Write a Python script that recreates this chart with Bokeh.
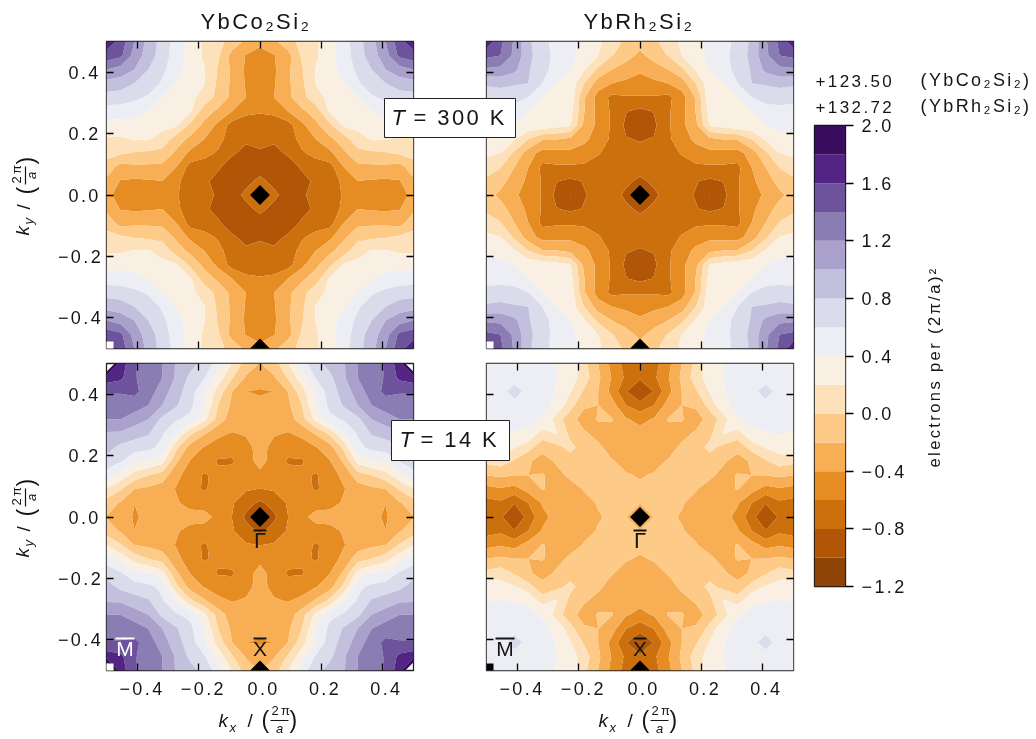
from math import pi
import numpy as np
from bokeh.core.properties import value
from bokeh.embed import file_html
from bokeh.layouts import column
from bokeh.models import FixedTicker, LinearAxis, Range1d
from bokeh.plotting import figure
from bokeh.resources import INLINE

FONT = "Liberation Sans"
levels = [-1.2, -1.0, -0.8, -0.6, -0.4, -0.2, 0.0, 0.2, 0.4, 0.6, 0.8, 1.0, 1.2, 1.4, 1.6, 1.8, 2.0]
palette = ["#8f4407", "#b05606", "#cc700e", "#e58c23", "#f8ae54", "#fdca87", "#fde1ba", "#f9f0e3",
           "#edeef3", "#dadcec", "#c3c0dd", "#a9a0cb", "#897db3", "#6d529c", "#522584", "#390c5e"]
ticks = [-0.4, -0.2, 0.0, 0.2, 0.4]
tick_labels = ["\u22120.4", "\u22120.2", "0.0", "0.2", "0.4"]
cbar_ticks = [-1.2, -0.8, -0.4, 0.0, 0.4, 0.8, 1.2, 1.6, 2.0]
cbar_labels = ["\u22121.2", "\u22120.8", "\u22120.4", "0.0", "0.4", "0.8", "1.2", "1.6", "2.0"]

# Charge map, one octant of the square Brillouin zone (row = |kx| step, column = |ky| step)
co_300 = [
    [-.65],
    [-.75, -.86],
    [-.89, -.92, -.91],
    [-.83, -.87, -.77, -.62],
    [-.73, -.76, -.68, -.55, -.40],
    [-.65, -.67, -.68, -.45, -.25, -.05],
    [-.59, -.57, -.40, -.24, -.10, .23, .30],
    [-.55, -.40, -.25, -.07, .13, .25, .33, .40],
    [-.52, -.42, -.24, -.04, .21, .29, .39, .57, .72],
    [-.48, -.43, -.24, -.02, .21, .34, .46, .65, .80, 1.0],
    [-.43, -.41, -.28, .03, .17, .33, .50, .70, .90, 1.12, 1.45],
    [-.38, -.24, -.07, .06, .17, .32, .51, .72, .93, 1.2, 1.52, 1.75],
]
rh_300 = [
    [-.92],
    [-.84, -.76],
    [-.72, -.72, -.70],
    [-.76, -.74, -.70, -.58],
    [-.81, -.79, -.62, -.54, -.33],
    [-1.005, -.84, -.63, -.45, -.25, .22],
    [-.85, -.79, -.63, -.47, -.19, .28, .34],
    [-.62, -.62, -.65, -.48, -.18, .33, .37, .40],
    [-.45, -.44, -.40, -.30, 0.0, .34, .40, .60, .80],
    [-.38, -.30, -.20, -.04, .22, .40, .52, .67, .82, 1.05],
    [-.25, -.12, .01, .20, .33, .45, .54, .68, .86, 1.15, 1.40],
    [-.12, -.04, .10, .24, .35, .46, .54, .65, .84, 1.17, 1.45, 1.75],
]
co_14 = [
    [-.92],
    [-.84, -.72],
    [-.604, -.58, -.52],
    [-.43, -.47, -.52, -.55],
    [-.36, -.45, -.625, -.625, -.47],
    [-.33, -.46, -.52, -.47, -.41, -.28],
    [-.32, -.38, -.41, -.36, -.17, .05, .40],
    [-.33, -.34, -.31, -.08, .26, .55, .62, .75],
    [-.36, -.34, -.24, 0.0, .40, .65, .82, 1.0, 1.2],
    [-.42, -.398, -.20, .12, .42, .70, .88, 1.10, 1.30, 1.45],
    [-.30, -.22, .02, .32, .62, .75, .97, 1.20, 1.30, 1.42, 1.65],
    [-.21, -.09, .19, .50, .73, .88, .98, 1.20, 1.30, 1.42, 1.72, 2.4],
]
rh_14 = [
    [-.32],
    [-.195, -.10],
    [-.18, -.17, -.15],
    [-.21, -.19, -.16, -.13],
    [-.28, -.24, -.19, -.15, -.10],
    [-.30, -.28, -.26, -.17, -.08, .05],
    [-.33, -.29, -.25, -.25, -.18, -.06, .22],
    [-.46, -.38, -.19, -.19, -.27, -.14, .12, .38],
    [-.73, -.60, -.32, -.20, -.175, .08, .36, .45, .52],
    [-.98, -.79, -.47, -.20, -.03, .22, .39, .47, .55, .66],
    [-.77, -.64, -.42, -.16, .10, .30, .41, .45, .50, .54, .50],
    [-.70, -.68, -.46, -.20, .05, .35, .39, .43, .48, .52, .50, .47],
]
k_steps = list(range(-11, 12))
mark_diamond_x, mark_diamond_y = [0.0, 0.0], [0.0, -0.5]
mark_square_x, mark_square_y = [-0.5], [-0.5]


def unfold(tri):
    n = len(k_steps)
    z = np.zeros((n, n))
    for i, a in enumerate(k_steps):
        for j, b in enumerate(k_steps):
            hi, lo = max(abs(a), abs(b)), min(abs(a), abs(b))
            z[i, j] = tri[hi][lo]
    return z


SPACING = "2.4px"
INK = "#151515"
L, R, T, B = 70, 70, 10, 40   # all figures of a column share these borders


def place(fx, fy):
    return {"position": "absolute", "left": f"{fx - L}px", "top": f"{fy - T}px", "letter-spacing": SPACING}


def panel(tri, fx, fy, left_labels, bottom_labels, corner):
    p = figure(frame_width=307, frame_height=307, output_backend="svg", toolbar_location=None,
               x_range=Range1d(-0.5, 0.5), y_range=Range1d(-0.5, 0.5),
               min_border_left=L, min_border_right=R, min_border_top=T, min_border_bottom=B,
               x_axis_location=None, y_axis_location=None,
               background_fill_color="white", border_fill_color=None,
               styles=place(fx, fy))
    p.grid.visible = False
    p.outline_line_color = "#222222"
    p.outline_line_width = 1.3
    k = np.array(k_steps) / 22
    p.contour(k, k, unfold(tri), levels=levels, fill_color=palette, line_color=None)
    p.scatter(mark_diamond_x, mark_diamond_y, marker="square", angle=pi / 4, size=14,
              fill_color="black", line_color=None)
    p.scatter(mark_square_x, mark_square_y, marker="square", size=14, fill_color=corner, line_color=None)
    for side, labelled in (("left", left_labels), ("right", False), ("below", bottom_labels), ("above", False)):
        ax = LinearAxis(ticker=FixedTicker(ticks=ticks), major_tick_in=7, major_tick_out=0,
                        minor_tick_in=0, minor_tick_out=0, axis_line_color=None,
                        major_tick_line_color="black", major_tick_line_width=1.3,
                        major_label_text_font=FONT, major_label_text_font_size="18px",
                        major_label_text_color=INK,
                        major_label_standoff=13 if side == "left" else 11)
        if labelled:
            ax.major_label_overrides = dict(zip(ticks, tick_labels))
        else:
            ax.major_label_overrides = {t: "" for t in ticks}
            ax.major_label_standoff = 0
        p.add_layout(ax, side)
    return p


p1 = panel(co_300, 106, 41, True, False, "white")
p2 = panel(rh_300, 486, 41, False, False, "white")
p3 = panel(co_14, 106, 363, True, True, "white")
p4 = panel(rh_14, 486, 363, False, True, "black")

# Colour bar
cb = figure(frame_width=31, frame_height=461, output_backend="svg", toolbar_location=None,
            x_range=Range1d(0, 1), y_range=Range1d(levels[0], levels[-1]),
            min_border_left=L, min_border_right=R, min_border_top=T, min_border_bottom=B,
            x_axis_location=None, y_axis_location=None, border_fill_color=None,
            styles=place(814, 125))
cb.grid.visible = False
cb.outline_line_color = "#111111"
cb.outline_line_width = 1.3
cb.quad(left=0, right=1, bottom=levels[:-1], top=levels[1:], fill_color=palette, line_color=None)
cax = LinearAxis(ticker=FixedTicker(ticks=cbar_ticks), major_tick_in=0, major_tick_out=8,
                 minor_tick_in=0, minor_tick_out=0, axis_line_color=None, major_tick_line_color="black",
                 major_tick_line_width=1.3, major_label_text_font=FONT, major_label_text_font_size="18px",
                 major_label_text_color=INK, major_label_standoff=8,
                 major_label_overrides=dict(zip(cbar_ticks, cbar_labels)))
cb.add_layout(cax, "right")

# Overlay for the texts that cross panels; its data coordinates are page pixels
ov = figure(width=1036 + L + R, height=739 + T + B, output_backend="svg", toolbar_location=None,
            x_range=Range1d(0, 1036), y_range=Range1d(739, 0),
            min_border_left=L, min_border_right=R, min_border_top=T, min_border_bottom=B,
            x_axis_location=None, y_axis_location=None, background_fill_color=None,
            border_fill_color=None, outline_line_color=None, styles=place(0, 0))
ov.grid.visible = False


def txt(x, y, s, size=17, style="normal", align="left", angle=0.0, color=INK, base="alphabetic"):
    # the browser draws this baseline about 0.41 em lower than asked for upright text
    yy = y - 0.41 * size if angle == 0.0 else y
    ov.text([x], [yy], text=[s], text_font=value(FONT), text_font_size=f"{size}px", text_font_style=style,
            text_align=align, text_baseline=base, angle=angle, text_color=color)


def bar(x0, y0, x1, y1, color=INK, w=2.0):
    ov.segment([x0], [y0], [x1], [y1], line_color=color, line_width=w)


txt(200, 30, "YbCo\u2082Si\u2082", 22)
txt(583, 30, "YbRh\u2082Si\u2082", 22)

for x0, x1, y0, y1, tx, label, lx in ((384, 515, 98, 137, 391, "= 300 K", 413),
                                      (391, 509, 420, 460, 399, "= 14 K", 420)):
    ov.quad(left=[x0], right=[x1], top=[y0], bottom=[y1], fill_color="white", line_color="#222222", line_width=1)
    txt(tx, y0 + 28, "T", 22, "italic")
    txt(lx, y0 + 28, label, 22)

for cx in (259.5, 639.5):
    txt(cx, 549, "\u0393", 22, align="center")
    bar(cx - 6.5, 530, cx + 6.5, 530)
    txt(cx, 657, "X", 21, align="center")
    bar(cx - 6.5, 638, cx + 6.5, 638)
for mx, col in ((124.5, "white"), (504.5, INK)):
    txt(mx, 657, "M", 21, align="center", color=col)
    bar(mx - 9.5, 638, mx + 9.5, 638, color=col)

for dx in (0, 380):
    txt(218 + dx, 728, "k", 19, "italic")
    txt(229 + dx, 732, "x", 13, "italic")
    txt(247 + dx, 728, "/", 19)
    txt(261 + dx, 729, "(", 23)
    txt(279 + dx, 715, "2\u03c0", 13, align="center")
    bar(270 + dx, 720, 288 + dx, 720, w=1.2)
    txt(279 + dx, 733, "a", 13, "italic", align="center")
    txt(289 + dx, 729, ")", 23)

for dy in (0, 322):
    txt(22, 235 + dy, "k", 19, "italic", angle=pi / 2)
    txt(28, 224 + dy, "y", 13, "italic", angle=pi / 2)
    txt(23, 209 + dy, "/", 19, angle=pi / 2)
    txt(25, 194 + dy, "(", 23, angle=pi / 2)
    txt(16, 175 + dy, "2\u03c0", 13, align="center", angle=pi / 2)
    bar(25, 166 + dy, 25, 184 + dy, w=1.2)
    txt(31, 175 + dy, "a", 13, "italic", align="center", angle=pi / 2)
    txt(25, 164 + dy, ")", 23, angle=pi / 2)

txt(815, 87, "+123.50", 17)
txt(815, 113, "+132.72", 17)
txt(920, 87, "(YbCo\u2082Si\u2082)", 18)
txt(920, 113, "(YbRh\u2082Si\u2082)", 18)
txt(933, 467, "electrons per (2\u03c0/a)\u00b2", 16.5, angle=pi / 2)

root = column(p1, p2, p3, p4, cb, ov,
              styles={"position": "fixed", "left": "0px", "top": "0px",
                      "width": "1400px", "height": "1000px"})
open("out.html", "w").write(file_html(root, INLINE))
